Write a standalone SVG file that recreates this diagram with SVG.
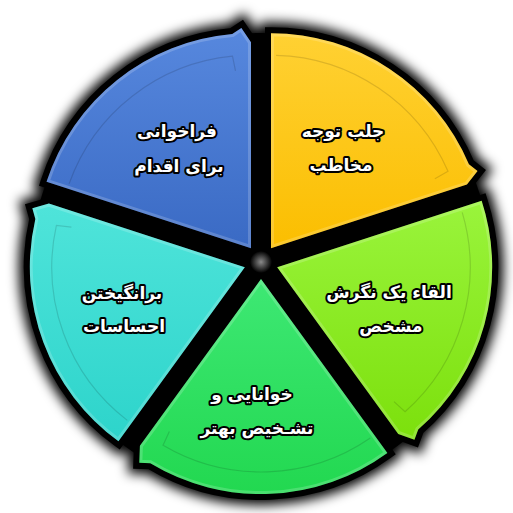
<svg xmlns="http://www.w3.org/2000/svg" width="513" height="513" viewBox="0 0 513 513">
<style>
.lbl{font-family:"DejaVu Sans","Noto Sans",sans-serif;font-weight:bold;font-size:17px;fill:#fff;stroke:#000;stroke-width:4px;stroke-linejoin:round;paint-order:stroke;text-anchor:middle}
.inner{fill:none;stroke:#000;stroke-opacity:0.13;stroke-width:1.2}
.bevel{fill:none;stroke:#fff;stroke-opacity:0.18;stroke-width:6}
.outl{fill:none;stroke:#000;stroke-width:12;stroke-linejoin:miter;stroke-miterlimit:6}
.halo{fill:none;stroke:#000;stroke-width:22;stroke-linejoin:miter;stroke-miterlimit:6}
</style>
<defs>
<filter id="blur" x="-20%" y="-20%" width="140%" height="140%"><feGaussianBlur stdDeviation="6"/></filter>
<linearGradient id="gY" x1="0" y1="0" x2="0" y2="1"><stop offset="0" stop-color="#FFD133"/><stop offset="1" stop-color="#FBBE00"/></linearGradient>
<linearGradient id="gL" x1="0" y1="0" x2="0" y2="1"><stop offset="0" stop-color="#9AF43C"/><stop offset="1" stop-color="#7CE00C"/></linearGradient>
<linearGradient id="gG" x1="0" y1="0" x2="0" y2="1"><stop offset="0" stop-color="#3EE874"/><stop offset="1" stop-color="#22D850"/></linearGradient>
<linearGradient id="gC" x1="0" y1="0" x2="0" y2="1"><stop offset="0" stop-color="#4FE4DA"/><stop offset="1" stop-color="#2DD4CB"/></linearGradient>
<linearGradient id="gB" x1="0" y1="0" x2="0" y2="1"><stop offset="0" stop-color="#5788DE"/><stop offset="1" stop-color="#3A6AC4"/></linearGradient>
<radialGradient id="dot"><stop offset="0" stop-color="#8a8a8a"/><stop offset="1" stop-color="#000"/></radialGradient>
<path id="pY" d="M271,248.25 L271,33.25 A215,215 0 0 1 468.91,164.25 L477.54,171.03 L466.93,184.6 Z"/>
<path id="pL" d="M277.17,267.25 L481.66,200.81 A215,215 0 0 1 418.23,429.51 L414.43,439.81 L398.26,433.9 Z"/>
<path id="pG" d="M261,279 L387.38,452.94 A215,215 0 0 1 150.27,463.3 L139.31,462.87 L139.91,445.65 Z"/>
<path id="pC" d="M244.83,267.25 L118.45,441.19 A215,215 0 0 1 35.34,218.88 L32.35,208.33 L48.9,203.6 Z"/>
<path id="pB" d="M251,248.25 L46.51,181.81 A215,215 0 0 1 232.26,34.07 L241.38,27.96 L251,42.25 Z"/>
<clipPath id="cY"><use href="#pY"/></clipPath>
<clipPath id="cL"><use href="#pL"/></clipPath>
<clipPath id="cG"><use href="#pG"/></clipPath>
<clipPath id="cC"><use href="#pC"/></clipPath>
<clipPath id="cB"><use href="#pB"/></clipPath>
</defs>
<rect width="513" height="513" fill="#fff"/>
<g id="backdrop">
<g filter="url(#blur)">
<circle cx="261" cy="262" r="233" fill="#000"/>
<use href="#pY" class="halo"/><use href="#pL" class="halo"/><use href="#pG" class="halo"/><use href="#pC" class="halo"/><use href="#pB" class="halo"/>
</g>
<circle cx="261" cy="262" r="229" fill="#000"/>
<use href="#pY" class="outl"/><use href="#pL" class="outl"/><use href="#pG" class="outl"/><use href="#pC" class="outl"/><use href="#pB" class="outl"/>
</g>
<g id="connectors"></g>
<g id="node-yellow">
<use href="#pY" fill="url(#gY)"/>
<use href="#pY" class="bevel" clip-path="url(#cY)"/>
<path class="inner" d="M276.05,55.32 A193,193 0 0 1 448,171.3 L434.85,178.71"/>
<text class="lbl" x="343" y="137">جلب توجه</text>
<text class="lbl" x="341" y="171">مخاطب</text>
</g>
<g id="node-lime">
<use href="#pL" fill="url(#gL)"/>
<use href="#pL" class="bevel" clip-path="url(#cL)"/>
<path class="inner" d="M462.22,212.44 A193,193 0 0 1 405.05,411.81 L393.96,401.59"/>
<text class="lbl" x="389" y="298">القاء یک نگرش</text>
<text class="lbl" x="391" y="332">مشخص</text>
</g>
<g id="node-green">
<use href="#pG" fill="url(#gG)"/>
<use href="#pG" class="bevel" clip-path="url(#cG)"/>
<path class="inner" d="M370.32,438.05 A193,193 0 0 1 163.05,445.29 L169.33,431.58"/>
<text class="lbl" x="252" y="400">خوانایی و</text>
<text class="lbl" x="257" y="434">تشـخیص بهتر</text>
</g>
<g id="node-cyan">
<use href="#pC" fill="url(#gC)"/>
<use href="#pC" class="bevel" clip-path="url(#cC)"/>
<path class="inner" d="M127.33,420.38 A193,193 0 0 1 56.4,225.48 L71.39,227.2"/>
<text class="lbl" x="122" y="299">برانگیختن</text>
<text class="lbl" x="124" y="332">احساسات</text>
</g>
<g id="node-blue">
<use href="#pB" fill="url(#gB)"/>
<use href="#pB" class="bevel" clip-path="url(#cB)"/>
<path class="inner" d="M69.08,183.83 A193,193 0 0 1 232.5,56.14 L235.49,70.93"/>
<text class="lbl" x="177" y="137">فراخوانی</text>
<text class="lbl" x="179" y="172">برای اقدام</text>
</g>
<circle id="hub" cx="261" cy="262" r="11" fill="url(#dot)"/>
</svg>
